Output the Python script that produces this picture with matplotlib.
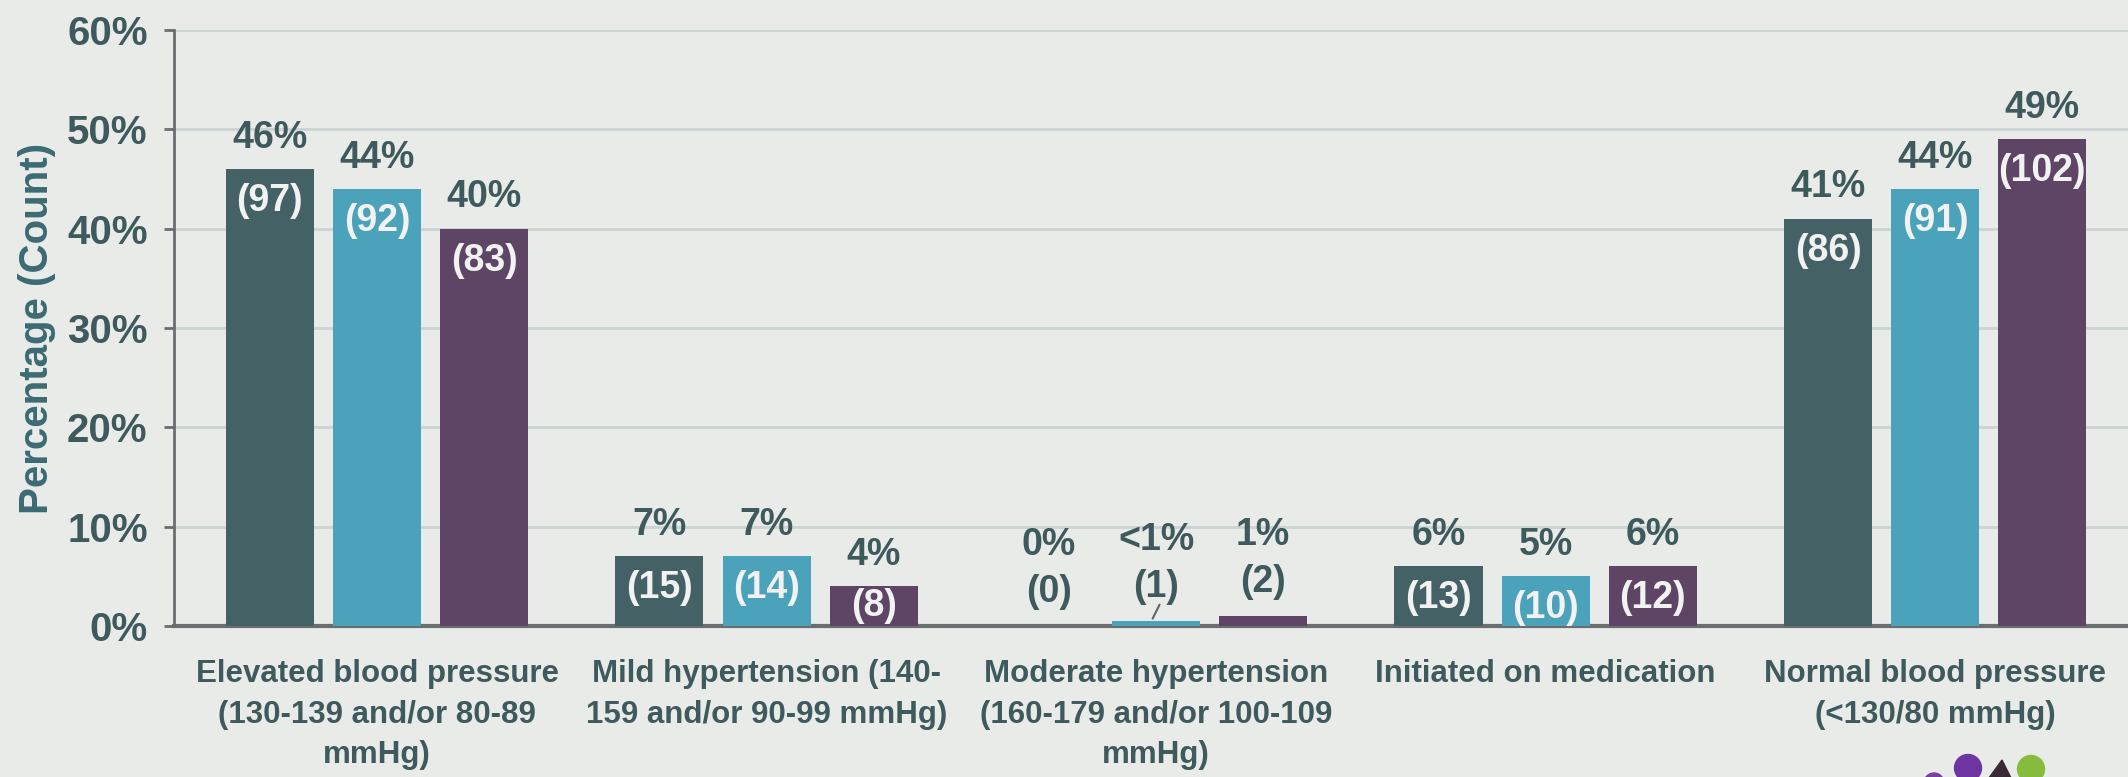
import matplotlib
matplotlib.use("Agg")
import matplotlib.pyplot as plt
from matplotlib.patches import Circle, Polygon
import numpy as np

# Blood pressure outcome categories and the three cohorts
categories = [
    "Elevated blood pressure\n(130-139 and/or 80-89\nmmHg)",
    "Mild hypertension (140-\n159 and/or 90-99 mmHg)",
    "Moderate hypertension\n(160-179 and/or 100-109\nmmHg)",
    "Initiated on medication",
    "Normal blood pressure\n(<130/80 mmHg)",
]
pct_a = [46, 7, 0, 6, 41]
pct_b = [44, 7, 0.5, 5, 44]
pct_c = [40, 4, 1, 6, 49]
count_a = [97, 15, 0, 13, 86]
count_b = [92, 14, 1, 10, 91]
count_c = [83, 8, 2, 12, 102]
pct_text_a = ["46%", "7%", "0%", "6%", "41%"]
pct_text_b = ["44%", "7%", "<1%", "5%", "44%"]
pct_text_c = ["40%", "4%", "1%", "6%", "49%"]
yticks = [0, 10, 20, 30, 40, 50, 60]

bg = "#e8ebe8"
txt = "#3f5a5d"
colors = ["#446265", "#4ba3bb", "#5e4565"]
font = "Liberation Sans"

fig = plt.figure(figsize=(21.28, 7.77), dpi=100, facecolor=bg)
ax = fig.add_axes([0.0818, 0.1943, 0.9182, 0.7671], facecolor=bg)

x = np.arange(len(categories))
width = 0.226
step = 0.275

series = [
    (pct_a, count_a, pct_text_a),
    (pct_b, count_b, pct_text_b),
    (pct_c, count_c, pct_text_c),
]

for i, (vals, counts, labels) in enumerate(series):
    xs = x + (i - 1) * step
    ax.bar(xs, vals, width=width, color=colors[i], zorder=3)
    for xi, v, c, lab in zip(xs, vals, counts, labels):
        if v < 2:
            # tiny bars: both labels sit above the bar
            cy = v + 3.4
            ax.text(xi, cy, f"({c})", ha="center", va="center",
                    fontsize=27, fontweight="bold", color=txt,
                    family=font, zorder=4)
            ax.text(xi, cy + 4.8, lab, ha="center", va="center",
                    fontsize=27, fontweight="bold", color=txt,
                    family=font, zorder=4)
            if 0 < v < 1:
                ax.annotate("", xy=(xi - 0.012, v), xytext=(xi + 0.012, cy - 1.5),
                            arrowprops=dict(arrowstyle="-", color="#5d6566", lw=1.5),
                            zorder=4)
        else:
            ax.annotate(lab, xy=(xi, v), xytext=(0, 22.5), textcoords="offset points",
                        ha="center", va="center", fontsize=27, fontweight="bold",
                        color=txt, family=font, zorder=4)
            off = -23 if v >= 5 else -14.5
            ax.annotate(f"({c})", xy=(xi, v), xytext=(0, off), textcoords="offset points",
                        ha="center", va="center", fontsize=27, fontweight="bold",
                        color="#f2f2f2", family=font, zorder=4)

ax.set_xlim(-0.521, 4.495)
ax.set_ylim(0, 60)
ax.set_yticks(yticks)
ax.set_yticklabels([f"{t}%" for t in yticks], fontsize=29, fontweight="bold",
                   color=txt, family=font)
ax.set_xticks(x)
ax.set_xticklabels(categories, fontsize=22.5, fontweight="bold", color=txt,
                   family=font, linespacing=1.45, va="top")
ax.tick_params(axis="x", length=0, pad=24)
ax.tick_params(axis="y", length=7, width=2, color="#6a6e6f", pad=12)

ax.set_ylabel("Percentage (Count)", fontsize=29, fontweight="bold",
              color="#3c6b74", family=font, labelpad=8)

ax.grid(axis="y", color="#cbd3d3", lw=2, zorder=0)
ax.set_axisbelow(True)
for side in ["top", "right"]:
    ax.spines[side].set_visible(False)
ax.spines["left"].set_color("#6a6e6f")
ax.spines["left"].set_linewidth(2)
ax.spines["bottom"].set_color("#6a6e6f")
ax.spines["bottom"].set_linewidth(3)

# corner logo, partly off the bottom edge (positions in pixels from top-left)
H = 777
def px(xp, yp):
    return (xp / 100, (H - yp) / 100)
tr = fig.dpi_scale_trans
fig.add_artist(Circle(px(1934, 783), 0.10, transform=tr, color="#7a3fa0", zorder=5))
fig.add_artist(Circle(px(1968, 768), 0.135, transform=tr, color="#6e35a0", zorder=5))
fig.add_artist(Polygon([px(1986, 782), px(2002, 760), px(2013, 782)],
                       closed=True, transform=tr, color="#3a2a35", zorder=5))
fig.add_artist(Circle(px(2031, 769), 0.135, transform=tr, color="#86bc3e", zorder=5))

fig.savefig("out.png", dpi=100, facecolor=bg)
